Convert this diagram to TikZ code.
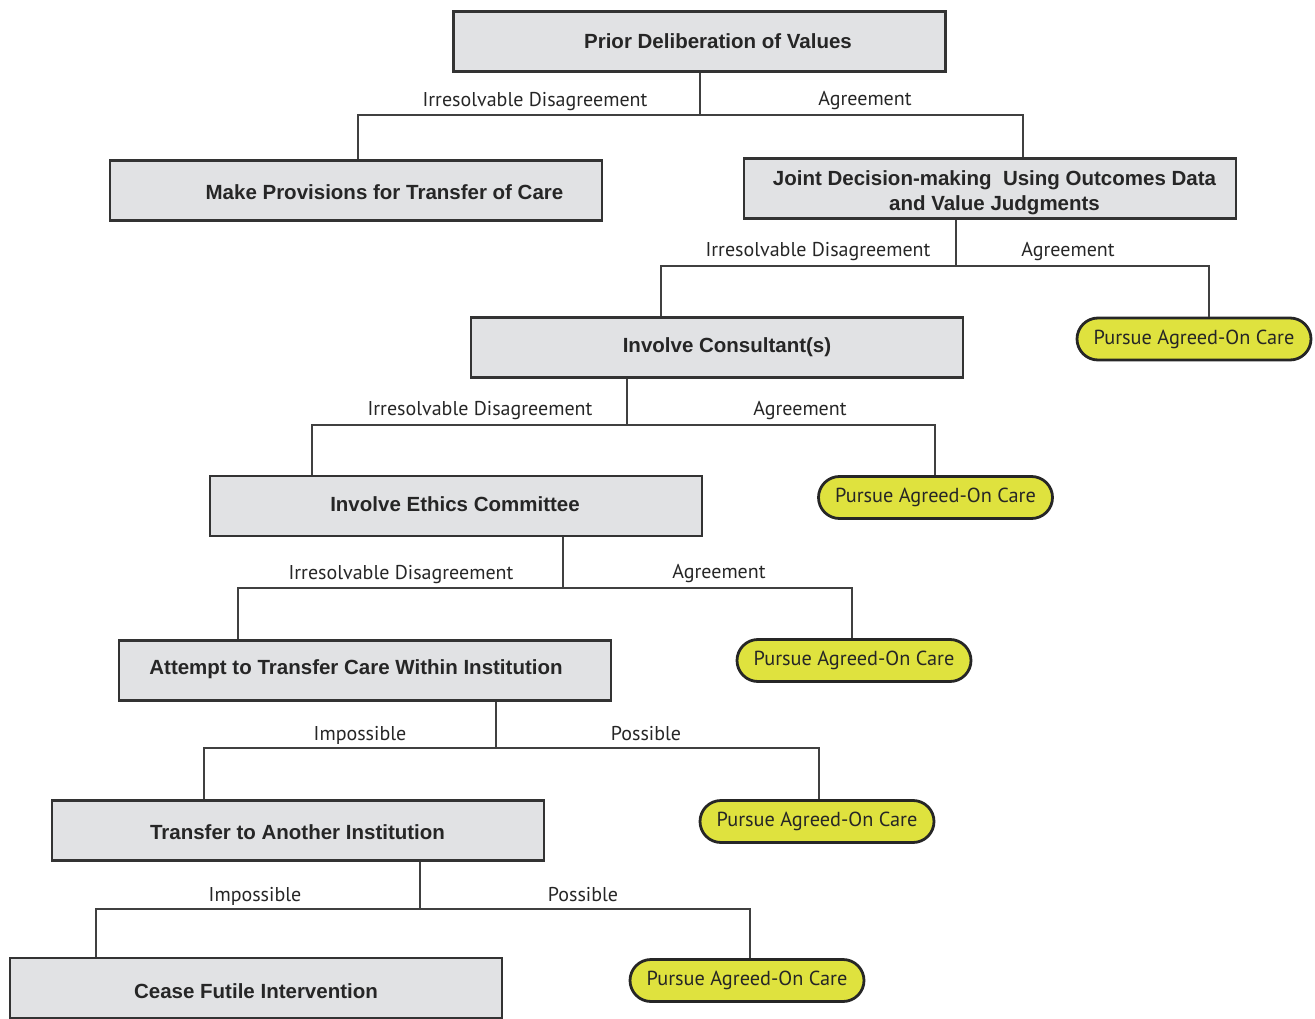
\documentclass[tikz,border=0pt]{standalone}
\usepackage{fontspec}
\setmainfont{Liberation Sans}
\newfontfamily\labelfont{PT Sans}
\begin{document}
\begin{tikzpicture}[x=1pt,y=-1pt,
  stepbox/.style={draw=black!80,line width=2.6pt,fill=boxgray,inner sep=0pt,
    minimum width=492pt,minimum height=60pt},
  steptext/.style={inner sep=0pt,font=\fontsize{20.5}{25}\selectfont\bfseries,
    text=black!85,align=center,yshift=-2pt},
  pill/.style={draw=black!85,line width=2.8pt,fill=pillyellow,rounded corners=21pt,
    minimum width=234pt,minimum height=42pt,inner sep=0pt,
    font=\labelfont\fontsize{20.3}{24}\selectfont,text=black!85},
  conn/.style={draw=black!75,line width=1.5pt},
  lbl/.style={font=\labelfont\fontsize{20}{24}\selectfont,text=black!85,inner sep=0pt,yshift=-2.5pt}]
\definecolor{boxgray}{HTML}{E1E2E4}
\definecolor{pillyellow}{HTML}{DFE23E}
\useasboundingbox (0,0) rectangle (1315,1019);

% decision boxes
\node[stepbox] (b1) at (699.5,41.5) {};
\node[stepbox] (b2) at (356,190.5) {};
\node[stepbox] (b3) at (990,188.5) {};
\node[stepbox] (b4) at (717,347.5) {};
\node[stepbox] (b5) at (456,506) {};
\node[stepbox] (b6) at (365,670.5) {};
\node[stepbox] (b7) at (298,830.5) {};
\node[stepbox] (b8) at (256,988) {};

% box captions
\node[steptext] (c1) at (718,39) {Prior Deliberation of Values};
\node[steptext] (c2) at (384.5,190) {Make Provisions for Transfer of Care};
\node[steptext] (c3) at (994.5,191) {Joint Decision-making\ \ Using Outcomes Data\\and Value Judgments};
\node[steptext] (c4) at (727,345) {Involve Consultant(s)};
\node[steptext] (c5) at (455,502) {Involve Ethics Committee};
\node[steptext] (c6) at (356,667) {Attempt to Transfer Care Within Institution};
\node[steptext] (c7) at (297.5,830) {Transfer to Another Institution};
\node[steptext] (c8) at (256,989) {Cease Futile Intervention};

% outcome pills
\node[pill] (p1) at (1194,339) {Pursue Agreed-On Care};
\node[pill] (p2) at (935.5,497.5) {Pursue Agreed-On Care};
\node[pill] (p3) at (854,660.5) {Pursue Agreed-On Care};
\node[pill] (p4) at (817,821.5) {Pursue Agreed-On Care};
\node[pill] (p5) at (747,980.5) {Pursue Agreed-On Care};

% junctions and branch ends
\coordinate (j1) at (700,115); \coordinate (l1) at (358,115); \coordinate (r1) at (1023,115);
\coordinate (j2) at (956,266); \coordinate (l2) at (661,266); \coordinate (r2) at (1209,266);
\coordinate (j3) at (627,425); \coordinate (l3) at (312,425); \coordinate (r3) at (935,425);
\coordinate (j4) at (563,588); \coordinate (l4) at (238,588); \coordinate (r4) at (852,588);
\coordinate (j5) at (496,748); \coordinate (l5) at (204,748); \coordinate (r5) at (819,748);
\coordinate (j6) at (420,909); \coordinate (l6) at (96,909);  \coordinate (r6) at (750,909);

% connectors
\draw[conn] (j1 |- b1.south) -- (j1);
\draw[conn] (l1 |- b2.north) -- (l1) -- (r1) -- (r1 |- b3.north);
\draw[conn] (j2 |- b3.south) -- (j2);
\draw[conn] (l2 |- b4.north) -- (l2) -- (r2) -- (r2 |- p1.north);
\draw[conn] (j3 |- b4.south) -- (j3);
\draw[conn] (l3 |- b5.north) -- (l3) -- (r3) -- (r3 |- p2.north);
\draw[conn] (j4 |- b5.south) -- (j4);
\draw[conn] (l4 |- b6.north) -- (l4) -- (r4) -- (r4 |- p3.north);
\draw[conn] (j5 |- b6.south) -- (j5);
\draw[conn] (l5 |- b7.north) -- (l5) -- (r5) -- (r5 |- p4.north);
\draw[conn] (j6 |- b7.south) -- (j6);
\draw[conn] (l6 |- b8.north) -- (l6) -- (r6) -- (r6 |- p5.north);

% branch labels
\node[lbl] (t1a) at (535,99) {Irresolvable Disagreement};
\node[lbl] (t1b) at (865,98) {Agreement};
\node[lbl] (t2a) at (818,249) {Irresolvable Disagreement};
\node[lbl] (t2b) at (1068,249) {Agreement};
\node[lbl] (t3a) at (480,408) {Irresolvable Disagreement};
\node[lbl] (t3b) at (800,408) {Agreement};
\node[lbl] (t4a) at (401,572) {Irresolvable Disagreement};
\node[lbl] (t4b) at (719,571) {Agreement};
\node[lbl] (t5a) at (360,733) {Impossible};
\node[lbl] (t5b) at (646,731) {Possible};
\node[lbl] (t6a) at (255,894) {Impossible};
\node[lbl] (t6b) at (583,892) {Possible};
\end{tikzpicture}
\end{document}
